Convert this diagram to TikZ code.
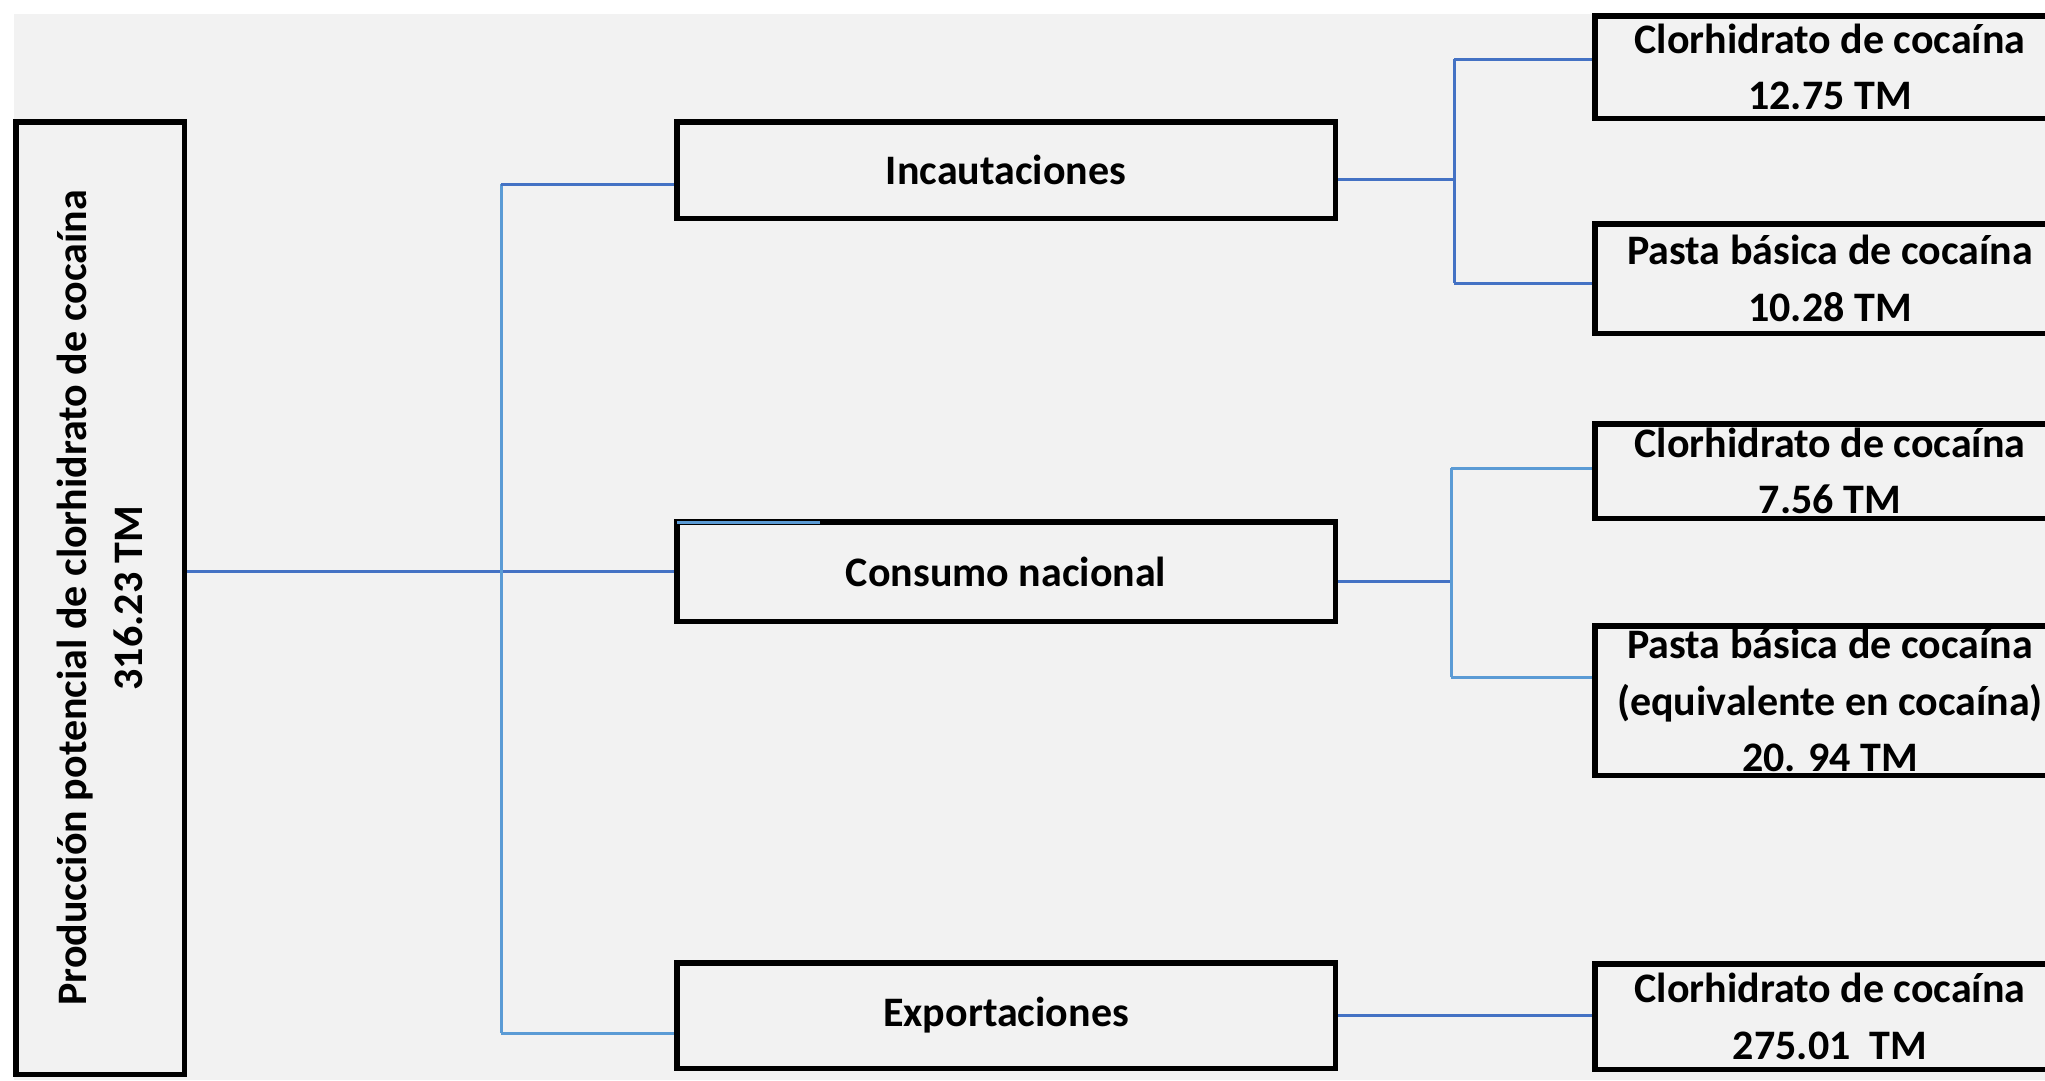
\documentclass[tikz,border=0pt]{standalone}
\usepackage{fontspec}
\setmainfont{Carlito}
\definecolor{bg}{HTML}{F2F2F2}
\definecolor{dblue}{HTML}{4472C4}
\definecolor{lblue}{HTML}{5B9BD5}
\begin{document}
\begin{tikzpicture}[x=1pt,y=-1pt,
  box/.style={draw=black, line width=5.5pt, fill=bg, inner sep=0pt, align=center,
    font=\fontsize{42}{56.5}\selectfont\bfseries, anchor=north west},
  link/.style={line width=3pt, draw=dblue},
  llink/.style={line width=3pt, draw=lblue}]
\path[use as bounding box] (0,0) rectangle (2045,1080);
\clip (0,0) rectangle (2045,1080);
\fill[bg] (14,14) rectangle (2045,1080);

% main box (rotated text)
\node[box, anchor=center, rotate=90, minimum width=952.5pt, minimum height=168.5pt] (main) at (100,598)
  {Producción potencial de clorhidrato de cocaína\\316.23 TM};

% middle boxes
\node[box, minimum width=658.5pt, minimum height=96.5pt] (inc) at (674,119) {Incautaciones};
\node[box, minimum width=658.5pt, minimum height=99.5pt] (cons) at (674,519) {Consumo nacional};
\node[box, minimum width=658.5pt, minimum height=105.5pt] (exp) at (674,960) {Exportaciones};

% right boxes
\node[box, minimum width=470.5pt, minimum height=102.5pt] (r1) at (1592,13) {Clorhidrato de cocaína\\12.75 TM};
\node[box, minimum width=470.5pt, minimum height=109.5pt] (r2) at (1592,221) {Pasta básica de cocaína\\10.28 TM};
\node[box, minimum width=470.5pt, minimum height=94.5pt] (r3) at (1592,421) {Clorhidrato de cocaína\\7.56 TM};
\node[box, minimum width=470.5pt, minimum height=149.5pt] (r4) at (1592,623) {Pasta básica de cocaína\\(equivalente en cocaína)\\20. 94 TM};
\node[box, minimum width=470.5pt, minimum height=105.5pt] (r5) at (1592,961) {Clorhidrato de cocaína\\275.01\ \ TM};

% junction coordinates
\coordinate (t1) at (501,184);
\coordinate (t2) at (501,1033);
\coordinate (a) at (1454,179);
\coordinate (a1) at (1454,59);
\coordinate (a2) at (1454,283);
\coordinate (b) at (1451,581);
\coordinate (b1) at (1451,468);
\coordinate (b2) at (1451,677);

% connectors from main
\draw[link] (main.south |- cons.west) -- (cons.west);
\draw[llink] (t1) -- (t2);
\draw[link] (t1) -- (t1 -| inc.west);
\draw[llink] (t2) -- (t2 -| exp.west);

% Incautaciones branches
\draw[link] (a -| inc.east) -- (a);
\draw[link] (a1) -- (a2);
\draw[link] (a1) -- (a1 -| r1.west);
\draw[link] (a2) -- (a2 -| r2.west);

% Consumo branches
\draw[link] (b -| cons.east) -- (b);
\draw[llink] (b1) -- (b2);
\draw[llink] (b1) -- (b1 -| r3.west);
\draw[llink] (b2) -- (b2 -| r4.west);

% Exportaciones
\draw[link] (exp.east) -- (exp.east -| r5.west);

% short blue stroke on top border of Consumo box
\draw[llink] ([xshift=3pt,yshift=-3pt]cons.north west) -- ([xshift=146pt,yshift=-3pt]cons.north west);
\end{tikzpicture}
\end{document}
